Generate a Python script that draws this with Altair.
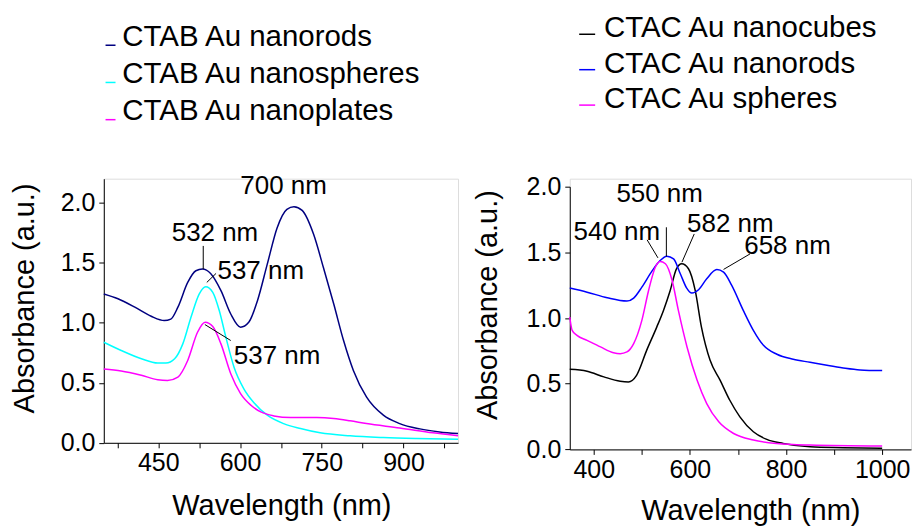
import altair as alt
import pandas as pd

FONT = "Liberation Sans"

# ---------------- Left panel (CTAB) ----------------
L_names = ["CTAB Au nanorods", "CTAB Au nanospheres", "CTAB Au nanoplates"]
L_colors = ["#000080", "#00FFFF", "#FF00FF"]

L_rods_x = [350, 376, 407, 437, 461, 473, 486, 504, 519, 531, 546, 565, 583, 601, 616, 632,
            650, 668, 686, 699, 714, 735, 753, 772, 790, 808, 832, 863, 893, 930, 966, 1000]
L_rods_y = [1.24, 1.20, 1.13, 1.054, 1.018, 1.03, 1.13, 1.336, 1.433, 1.447, 1.41, 1.267, 1.073,
            0.963, 1.004, 1.184, 1.488, 1.79, 1.945, 1.967, 1.936, 1.737, 1.46, 1.156, 0.852,
            0.603, 0.382, 0.23, 0.16, 0.116, 0.091, 0.077]

L_sph_x = [350, 382, 419, 449, 464, 480, 495, 510, 525, 537, 550, 562, 574, 589, 607, 626,
           650, 680, 711, 747, 802, 863, 924, 1000]
L_sph_y = [0.838, 0.769, 0.70, 0.664, 0.664, 0.70, 0.824, 1.046, 1.239, 1.30, 1.253, 1.10, 0.88,
           0.63, 0.45, 0.332, 0.23, 0.16, 0.119, 0.083, 0.058, 0.044, 0.036, 0.03]

L_pl_x = [350, 382, 419, 449, 467, 486, 504, 522, 536, 550, 565, 583, 601, 620, 638, 662,
          693, 741, 772, 802, 832, 893, 954, 1000]
L_pl_y = [0.614, 0.598, 0.562, 0.526, 0.52, 0.548, 0.686, 0.921, 1.004, 0.968, 0.824, 0.575,
          0.41, 0.313, 0.257, 0.224, 0.21, 0.21, 0.202, 0.183, 0.16, 0.124, 0.083, 0.058]

L_ann_text = ["700 nm", "532 nm", "537 nm", "537 nm"]
L_ann_x = [680, 554, 638, 668]
L_ann_y = [2.138, 1.751, 1.427, 0.722]

L_lead_x = [532.5, 539, 535.5]
L_lead_y = [1.64, 1.336, 0.985]
L_lead_x2 = [532.5, 556, 583]
L_lead_y2 = [1.447, 1.411, 0.852]

# ---------------- Right panel (CTAC) ----------------
R_names = ["CTAC Au nanocubes", "CTAC Au nanorods", "CTAC Au spheres"]
R_colors = ["#000000", "#0000FF", "#FF00FF"]

R_cub_x = [350, 386, 421, 455, 472, 489, 510, 531, 545, 559, 572, 583, 597, 611, 624, 642,
           663, 683, 704, 732, 760, 794, 850, 919, 1000]
R_cub_y = [0.61, 0.595, 0.552, 0.519, 0.514, 0.564, 0.754, 0.931, 1.058, 1.21, 1.375, 1.413,
           1.375, 1.21, 0.931, 0.678, 0.526, 0.374, 0.248, 0.134, 0.076, 0.045, 0.02, 0.013, 0.008]

R_rod_x = [350, 386, 428, 469, 483, 500, 521, 538, 552, 566, 580, 593, 604, 618, 635, 656,
           670, 687, 711, 732, 753, 781, 815, 850, 885, 919, 954, 1000]
R_rod_y = [1.228, 1.197, 1.154, 1.129, 1.152, 1.235, 1.357, 1.438, 1.471, 1.45, 1.337, 1.23,
           1.19, 1.215, 1.299, 1.369, 1.349, 1.248, 1.058, 0.906, 0.792, 0.724, 0.686, 0.663,
           0.64, 0.62, 0.605, 0.60]

R_sph_x = [350, 355, 365, 386, 414, 441, 455, 469, 483, 500, 514, 528, 538, 549, 563, 576,
           594, 615, 635, 660, 691, 732, 781, 850, 1000]
R_sph_y = [1.008, 0.906, 0.868, 0.83, 0.78, 0.736, 0.729, 0.742, 0.805, 0.982, 1.21, 1.387,
           1.43, 1.413, 1.286, 1.058, 0.78, 0.526, 0.349, 0.21, 0.121, 0.071, 0.045, 0.033, 0.025]

R_ann_text = ["550 nm", "540 nm", "582 nm", "658 nm"]
R_ann_x = [537, 448, 684, 803]
R_ann_y = [1.944, 1.658, 1.716, 1.552]

R_lead_x = [551, 511, 609, 725]
R_lead_y = [1.691, 1.595, 1.64, 1.488]
R_lead_x2 = [551, 533.5, 583.4, 670]
R_lead_y2 = [1.468, 1.458, 1.425, 1.37]


def curves(names, xs, ys):
    rows = []
    for n, xv, yv in zip(names, xs, ys):
        for a, b in zip(xv, yv):
            rows.append({"series": n, "wl": a, "abs": b})
    return pd.DataFrame(rows)


L_df = curves(L_names, [L_rods_x, L_sph_x, L_pl_x], [L_rods_y, L_sph_y, L_pl_y])
R_df = curves(R_names, [R_cub_x, R_rod_x, R_sph_x], [R_cub_y, R_rod_y, R_sph_y])
L_ann = pd.DataFrame({"t": L_ann_text, "wl": L_ann_x, "abs": L_ann_y})
R_ann = pd.DataFrame({"t": R_ann_text, "wl": R_ann_x, "abs": R_ann_y})
L_lead = pd.DataFrame({"wl": L_lead_x, "abs": L_lead_y, "wl2": L_lead_x2, "abs2": L_lead_y2})
R_lead = pd.DataFrame({"wl": R_lead_x, "abs": R_lead_y, "wl2": R_lead_x2, "abs2": R_lead_y2})

common_axis = dict(
    grid=False, labelOverlap=False, labelFlush=False,
    domainColor="black", tickColor="black", labelColor="black", titleColor="black",
    labelFont=FONT, titleFont=FONT, labelFontSize=25, titleFontSize=29,
    titleFontWeight="normal", tickSize=5, domainWidth=1, tickWidth=1,
)


def panel(df, ann, lead, names, colors, xdom, xvals, xmod, xtitle_x, xtitle_pad, ydom, yrange,
          height, width, ytitle_x, ytitle_y, leg_x, leg_y, sym_path, sym_size, leg_row):
    xaxis = alt.Axis(values=xvals, format="d",
                     labelExpr=f"datum.value % {xmod} == 0 ? datum.label : ''",
                     title="Wavelength (nm)", labelPadding=3, titlePadding=xtitle_pad,
                     titleX=xtitle_x, titleAlign="center", **common_axis)
    yaxis = alt.Axis(values=[0, 0.25, 0.5, 0.75, 1.0, 1.25, 1.5, 1.75, 2.0], format=".1f",
                     labelExpr="datum.value % 0.5 == 0 ? datum.label : ''",
                     title="Absorbance (a.u.)", labelPadding=4,
                     titleX=ytitle_x, titleY=ytitle_y, titleAngle=270,
                     titleAlign="center", titleBaseline="alphabetic", **common_axis)
    if yrange is None:
        yscale = alt.Scale(domain=ydom, nice=False, zero=False)
    else:
        yscale = alt.Scale(domain=ydom, nice=False, zero=False, range=yrange)
    x = alt.X("wl:Q", scale=alt.Scale(domain=xdom, nice=False, zero=False), axis=xaxis)
    y = alt.Y("abs:Q", scale=yscale, axis=yaxis)

    lines = alt.Chart(df).mark_line(strokeWidth=1.5, interpolate="monotone").encode(
        x=x, y=y,
        color=alt.Color("series:N", sort=names,
                        scale=alt.Scale(domain=names, range=colors),
                        legend=alt.Legend(orient="none", legendX=leg_x, legendY=leg_y,
                                          title=None, symbolType=sym_path,
                                          symbolSize=sym_size, symbolStrokeWidth=1.5,
                                          labelFont=FONT, labelFontSize=29.5,
                                          labelColor="black", labelOffset=2,
                                          rowPadding=leg_row, padding=0, labelLimit=400)),
    )
    rules = alt.Chart(lead).mark_rule(color="black", strokeWidth=1).encode(
        x="wl:Q", y="abs:Q", x2="wl2:Q", y2="abs2:Q")
    texts = alt.Chart(ann).mark_text(font=FONT, fontSize=26, color="black",
                                     align="center", baseline="middle").encode(
        x="wl:Q", y="abs:Q", text="t:N")
    return alt.layer(lines, rules, texts).properties(width=width, height=height)


left = panel(L_df, L_ann, L_lead, L_names, L_colors, [350, 1000],
             [375, 450, 525, 600, 675, 750, 825, 900, 975], 150, 178, 16,
             [0, 2.2], None, 264.7, 355,
             -70, 119.5, -13, -157, "M0,1.7L2,1.7", 100, 6.3)
right = panel(R_df, R_ann, R_lead, R_names, R_colors, [350, 1060],
              [400, 500, 600, 700, 800, 900, 1000], 200, 181, 14,
              [0, 2.0], [271.3, 8], 271.3, 342,
              -73, 126.2, 2.7, -165.5, "M-1,0.75L1,0.75", 256, 4.5)

chart = alt.hconcat(left, right, spacing=112, bounds="flush").resolve_scale(
    color="independent").resolve_legend(color="independent").configure_view(
    stroke="transparent").configure(font=FONT).properties(
    padding={"left": 2, "top": 4.5, "right": 0, "bottom": 0})

chart.save("out.html", embed_options={"renderer": "svg", "actions": False})
